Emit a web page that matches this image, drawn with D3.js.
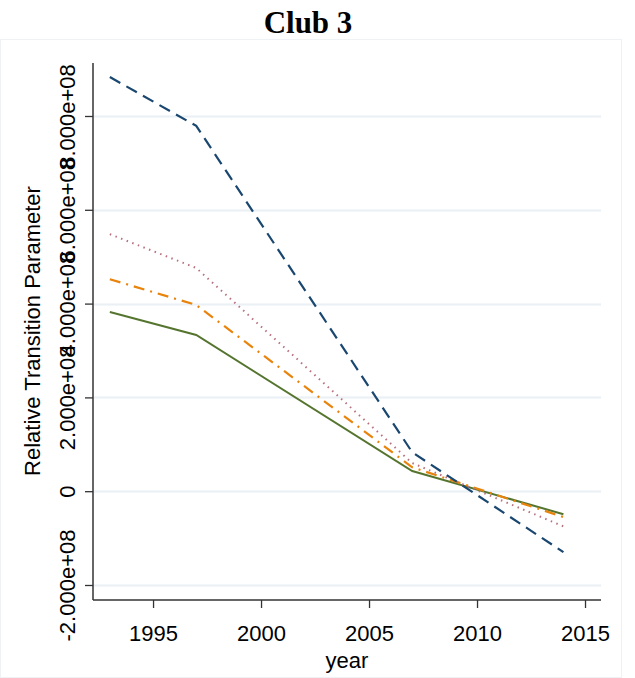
<!DOCTYPE html>
<html><head><meta charset="utf-8">
<script src="https://cdn.jsdelivr.net/npm/d3@7"></script>
<style>body{margin:0;background:#fff}svg{display:block}</style>
</head><body>
<script>
const years = [1993, 1997, 2007, 2014];
const seriesBlue   = [883e6, 779e6, 83e6, -130e6];
const seriesPink   = [548e6, 476e6, 60e6, -75e6];
const seriesOrange = [452e6, 397e6, 51e6, -55e6];
const seriesGreen  = [382e6, 333e6, 43e6, -49e6];
const xTicks = [1995, 2000, 2005, 2010, 2015];
const yTicks = [-2e8, 0, 2e8, 4e8, 6e8, 8e8];
const yTickLabels = ["-2.000e+08", "0", "2.000e+08", "4.000e+08", "6.000e+08", "8.000e+08"];
const title = "Club 3";
const xTitle = "year";
const yTitle = "Relative Transition Parameter";

const W = 635, H = 678;
const svg = d3.select("body").append("svg").attr("width", W).attr("height", H);

// plot region frame
svg.append("rect").attr("x", 0.5).attr("y", 39.5).attr("width", 621).attr("height", 638)
  .attr("fill", "#fff").attr("stroke", "#eef2f5");

const x = d3.scaleLinear().domain([1992.22, 2015.74]).range([93, 601]);
const y = d3.scaleLinear().domain([-2.32e8, 9.13e8]).range([600, 63]);

// gridlines
svg.append("g").selectAll("line").data(yTicks).join("line")
  .attr("x1", 93).attr("x2", 601)
  .attr("y1", d => Math.round(y(d)) + 0.5).attr("y2", d => Math.round(y(d)) + 0.5)
  .attr("stroke", "#eaf0f3").attr("stroke-width", 2);

// y axis
const yAxis = d3.axisLeft(y).tickValues(yTicks).tickSize(8).tickFormat((d, i) => yTickLabels[i]);
const gy = svg.append("g").attr("transform", "translate(93,0)").call(yAxis);
gy.select(".domain").attr("stroke", "#333").attr("stroke-width", 1.5).attr("d", `M-0,${y.range()[0]}V${y.range()[1]}`);
gy.selectAll(".tick line").attr("stroke", "#333").attr("stroke-width", 1.3);
gy.selectAll(".tick text")
  .attr("font-family", "Liberation Sans, Arial, sans-serif").attr("font-size", 22).attr("fill", "#000")
  .attr("x", null).attr("dy", null)
  .attr("text-anchor", "middle")
  .attr("transform", "translate(-18,0) rotate(-90)");

// x axis
const xAxis = d3.axisBottom(x).tickValues(xTicks).tickSize(8).tickFormat(d3.format("d"));
const gx = svg.append("g").attr("transform", "translate(0,600)").call(xAxis);
gx.select(".domain").attr("stroke", "#333").attr("stroke-width", 1.5).attr("d", `M${x.range()[0]},0H${x.range()[1]}`);
gx.selectAll(".tick line").attr("stroke", "#333").attr("stroke-width", 1.3);
gx.selectAll(".tick text")
  .attr("font-family", "Liberation Sans, Arial, sans-serif").attr("font-size", 22).attr("fill", "#000")
  .attr("y", 41).attr("dy", null);

// series
const series = [
  {vals: seriesGreen,  color: "#55752f", dash: null, w: 2},
  {vals: seriesOrange, color: "#e8830c", dash: "11,6,2,6", w: 2.2},
  {vals: seriesPink,   color: "#b8707e", dash: "1.5,4.5", w: 2},
  {vals: seriesBlue,   color: "#1a476f", dash: "12,7", w: 2.2}
];
const line = d3.line().x((d, i) => x(years[i])).y(d => y(d));
svg.append("g").selectAll("path").data(series).join("path")
  .attr("d", s => line(s.vals))
  .attr("fill", "none")
  .attr("stroke", s => s.color)
  .attr("stroke-width", s => s.w)
  .attr("stroke-dasharray", s => s.dash);

// titles
svg.append("text").attr("x", 308).attr("y", 33).attr("text-anchor", "middle")
  .attr("font-family", "Liberation Serif, Times New Roman, serif").attr("font-weight", "bold")
  .attr("font-size", 31).text(title);
svg.append("text").attr("x", 347).attr("y", 668).attr("text-anchor", "middle")
  .attr("font-family", "Liberation Sans, Arial, sans-serif").attr("font-size", 22).text(xTitle);
svg.append("text").attr("transform", "translate(40,331) rotate(-90)").attr("text-anchor", "middle")
  .attr("font-family", "Liberation Sans, Arial, sans-serif").attr("font-size", 22).text(yTitle);
</script>
</body></html>
